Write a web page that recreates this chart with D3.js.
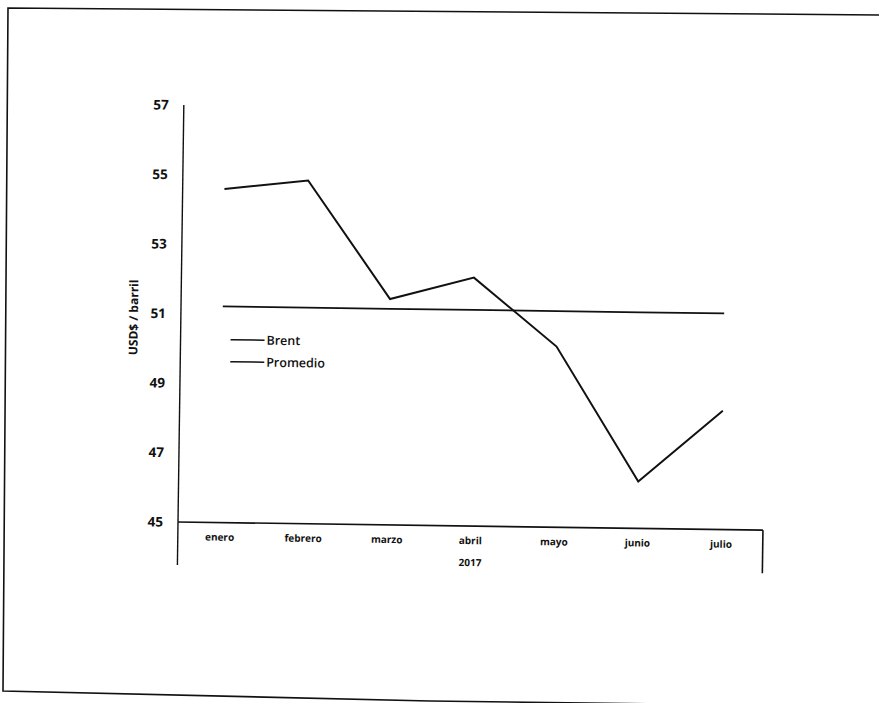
<!DOCTYPE html>
<html>
<head>
<meta charset="utf-8">
<script src="https://cdn.jsdelivr.net/npm/d3@7"></script>
<style>
  body { margin: 0; background: #fff; }
  svg { display: block; }
</style>
</head>
<body>
<div id="chart"></div>
<script>
// data (Brent, USD per barrel, 2017)
const months = ['enero', 'febrero', 'marzo', 'abril', 'mayo', 'junio', 'julio'];
const brent = [54.6, 54.88, 51.5, 52.15, 50.2, 46.35, 48.42];
const promedio = [51.22, 51.22, 51.22, 51.22, 51.22, 51.22, 51.22];
const yTicks = [45, 47, 49, 51, 53, 55, 57];
const yearLabel = '2017';
const yTitle = 'USD$ / barril';
const legendNames = ['Brent', 'Promedio'];

const W = 879, H = 703;
const ink = '#111';
const font = '"Open Sans", Lato, sans-serif';

const svg = d3.select('#chart').append('svg')
    .attr('width', W)
    .attr('height', H);

svg.append('rect').attr('width', W).attr('height', H).attr('fill', '#fff');

// scanned page frame, skewed like the original scan
svg.append('path')
    .attr('d', 'M882,15 L8,8 L3,691 L430,701 L740,705')
    .attr('fill', 'none')
    .attr('stroke', ink)
    .attr('stroke-width', 1.6);

const plotLeft = 178, plotRight = 763, plotTop = 105, plotBottom = 522;

const g = svg.append('g')
    .attr('transform', `rotate(0.8,${plotLeft},${plotBottom})`);

const x = d3.scaleBand()
    .domain(months)
    .range([plotLeft, plotRight]);

const y = d3.scaleLinear()
    .domain([45, 57])
    .range([plotBottom, plotTop]);

// y axis labels
const yAxis = g.append('g')
    .attr('transform', `translate(${plotLeft},0)`)
    .call(d3.axisLeft(y).tickValues(yTicks).tickSize(0).tickPadding(15));
yAxis.select('.domain').remove();
yAxis.selectAll('text')
    .attr('font-family', font)
    .attr('font-weight', 'bold')
    .attr('font-size', '13.5px')
    .attr('fill', ink);

// axis lines (category axis box extends below the baseline)
g.append('line')
    .attr('x1', plotLeft).attr('x2', plotLeft)
    .attr('y1', plotTop).attr('y2', 565)
    .attr('stroke', ink).attr('stroke-width', 1.4);
g.append('line')
    .attr('x1', plotLeft).attr('x2', plotRight)
    .attr('y1', y(45)).attr('y2', y(45))
    .attr('stroke', ink).attr('stroke-width', 1.6);
g.append('line')
    .attr('x1', plotRight).attr('x2', plotRight)
    .attr('y1', y(45)).attr('y2', 565)
    .attr('stroke', ink).attr('stroke-width', 1.6);

// x labels
const xAxis = g.append('g')
    .attr('transform', `translate(0,${y(45)})`)
    .call(d3.axisBottom(x).tickSize(0).tickPadding(11));
xAxis.select('.domain').remove();
xAxis.selectAll('text')
    .attr('font-family', font)
    .attr('font-weight', 'bold')
    .attr('font-size', '10px')
    .attr('fill', ink);

g.append('text')
    .attr('x', x('abril') + x.bandwidth() / 2)
    .attr('y', 562)
    .attr('text-anchor', 'middle')
    .attr('font-family', font)
    .attr('font-weight', 'bold')
    .attr('font-size', '10px')
    .attr('fill', ink)
    .text(yearLabel);

// y title
g.append('text')
    .attr('transform', `translate(135,318) rotate(-90)`)
    .attr('text-anchor', 'middle')
    .attr('font-family', font)
    .attr('font-weight', 'bold')
    .attr('font-size', '12px')
    .attr('fill', ink)
    .text(yTitle);

const line = d3.line()
    .x((d, i) => x(months[i]) + x.bandwidth() / 2)
    .y(d => y(d));

g.append('path')
    .datum(promedio)
    .attr('fill', 'none')
    .attr('stroke', ink)
    .attr('stroke-width', 1.8)
    .attr('d', line);

g.append('path')
    .datum(brent)
    .attr('fill', 'none')
    .attr('stroke', ink)
    .attr('stroke-width', 2)
    .attr('d', line);

// legend
const legend = g.append('g');
legendNames.forEach((name, i) => {
    const ly = 339 + i * 22;
    legend.append('line')
        .attr('x1', 228).attr('x2', 262)
        .attr('y1', ly).attr('y2', ly)
        .attr('stroke', ink).attr('stroke-width', 1.6);
    legend.append('text')
        .attr('x', 264).attr('y', ly + 4.5)
        .attr('font-family', font)
        .attr('font-weight', 600)
        .attr('font-size', '12.5px')
        .attr('fill', ink)
        .text(name);
});
</script>
</body>
</html>
